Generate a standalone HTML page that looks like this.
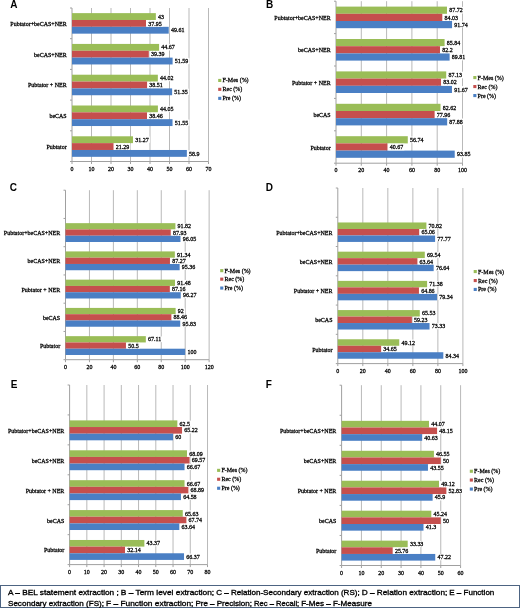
<!DOCTYPE html>
<html><head><meta charset="utf-8"><style>
html,body{margin:0;padding:0;background:#fff;}
body{width:520px;height:608px;overflow:hidden;position:relative;}
svg{position:absolute;left:0;top:0;will-change:transform;}
.tk,.cl,.vl,.lg{font-family:"Liberation Serif",serif;font-size:6.0px;fill:#000;stroke:#000;stroke-width:0.25px;}
.pl{font-family:"Liberation Sans",sans-serif;font-size:10px;font-weight:bold;fill:#000;}
.cap{font-family:"Liberation Sans",sans-serif;font-size:7.5px;fill:#000;stroke:#000;stroke-width:0.32px;}
</style></head><body>
<svg width="520" height="608" viewBox="0 0 520 608">
<line x1="91.50" y1="8.00" x2="91.50" y2="161.50" stroke="#b9b9b9" stroke-width="1"/>
<line x1="111.00" y1="8.00" x2="111.00" y2="161.50" stroke="#b9b9b9" stroke-width="1"/>
<line x1="130.50" y1="8.00" x2="130.50" y2="161.50" stroke="#b9b9b9" stroke-width="1"/>
<line x1="150.00" y1="8.00" x2="150.00" y2="161.50" stroke="#b9b9b9" stroke-width="1"/>
<line x1="169.50" y1="8.00" x2="169.50" y2="161.50" stroke="#b9b9b9" stroke-width="1"/>
<line x1="189.00" y1="8.00" x2="189.00" y2="161.50" stroke="#b9b9b9" stroke-width="1"/>
<line x1="208.50" y1="8.00" x2="208.50" y2="161.50" stroke="#b9b9b9" stroke-width="1"/>
<line x1="72.00" y1="8.00" x2="72.00" y2="161.50" stroke="#a0a0a0" stroke-width="1"/>
<line x1="72.00" y1="161.50" x2="208.50" y2="161.50" stroke="#a0a0a0" stroke-width="1"/>
<line x1="70.00" y1="8.00" x2="72.00" y2="8.00" stroke="#a0a0a0" stroke-width="1"/>
<line x1="70.00" y1="38.70" x2="72.00" y2="38.70" stroke="#a0a0a0" stroke-width="1"/>
<line x1="70.00" y1="69.40" x2="72.00" y2="69.40" stroke="#a0a0a0" stroke-width="1"/>
<line x1="70.00" y1="100.10" x2="72.00" y2="100.10" stroke="#a0a0a0" stroke-width="1"/>
<line x1="70.00" y1="130.80" x2="72.00" y2="130.80" stroke="#a0a0a0" stroke-width="1"/>
<line x1="70.00" y1="161.50" x2="72.00" y2="161.50" stroke="#a0a0a0" stroke-width="1"/>
<line x1="72.00" y1="161.50" x2="72.00" y2="164.00" stroke="#a0a0a0" stroke-width="1"/>
<line x1="91.50" y1="161.50" x2="91.50" y2="164.00" stroke="#a0a0a0" stroke-width="1"/>
<line x1="111.00" y1="161.50" x2="111.00" y2="164.00" stroke="#a0a0a0" stroke-width="1"/>
<line x1="130.50" y1="161.50" x2="130.50" y2="164.00" stroke="#a0a0a0" stroke-width="1"/>
<line x1="150.00" y1="161.50" x2="150.00" y2="164.00" stroke="#a0a0a0" stroke-width="1"/>
<line x1="169.50" y1="161.50" x2="169.50" y2="164.00" stroke="#a0a0a0" stroke-width="1"/>
<line x1="189.00" y1="161.50" x2="189.00" y2="164.00" stroke="#a0a0a0" stroke-width="1"/>
<line x1="208.50" y1="161.50" x2="208.50" y2="164.00" stroke="#a0a0a0" stroke-width="1"/>
<rect x="72.00" y="13.13" width="83.85" height="6.84" fill="#9ABD57"/>
<rect x="72.00" y="19.97" width="74.00" height="6.84" fill="#C54F4D"/>
<rect x="72.00" y="26.82" width="96.74" height="6.84" fill="#4A7FC4"/>
<rect x="72.00" y="43.92" width="87.11" height="6.84" fill="#9ABD57"/>
<rect x="72.00" y="50.76" width="76.81" height="6.84" fill="#C54F4D"/>
<rect x="72.00" y="57.61" width="100.60" height="6.84" fill="#4A7FC4"/>
<rect x="72.00" y="74.71" width="85.84" height="6.84" fill="#9ABD57"/>
<rect x="72.00" y="81.55" width="75.09" height="6.84" fill="#C54F4D"/>
<rect x="72.00" y="88.40" width="100.13" height="6.84" fill="#4A7FC4"/>
<rect x="72.00" y="105.50" width="85.90" height="6.84" fill="#9ABD57"/>
<rect x="72.00" y="112.34" width="75.00" height="6.84" fill="#C54F4D"/>
<rect x="72.00" y="119.19" width="100.52" height="6.84" fill="#4A7FC4"/>
<rect x="72.00" y="136.29" width="60.98" height="6.84" fill="#9ABD57"/>
<rect x="72.00" y="143.13" width="41.52" height="6.84" fill="#C54F4D"/>
<rect x="72.00" y="149.98" width="114.85" height="6.84" fill="#4A7FC4"/>
<rect x="156.85" y="13.43" width="8.40" height="6.24" fill="#fff"/>
<rect x="147.00" y="20.27" width="15.90" height="6.24" fill="#fff"/>
<rect x="169.74" y="27.12" width="15.90" height="6.24" fill="#fff"/>
<rect x="160.11" y="44.22" width="15.90" height="6.24" fill="#fff"/>
<rect x="149.81" y="51.06" width="15.90" height="6.24" fill="#fff"/>
<rect x="173.60" y="57.91" width="15.90" height="6.24" fill="#fff"/>
<rect x="158.84" y="75.01" width="15.90" height="6.24" fill="#fff"/>
<rect x="148.09" y="81.85" width="15.90" height="6.24" fill="#fff"/>
<rect x="173.13" y="88.70" width="15.90" height="6.24" fill="#fff"/>
<rect x="158.90" y="105.80" width="15.90" height="6.24" fill="#fff"/>
<rect x="148.00" y="112.64" width="15.90" height="6.24" fill="#fff"/>
<rect x="173.52" y="119.49" width="15.90" height="6.24" fill="#fff"/>
<rect x="133.98" y="136.59" width="15.90" height="6.24" fill="#fff"/>
<rect x="114.52" y="143.43" width="15.90" height="6.24" fill="#fff"/>
<rect x="187.85" y="150.28" width="12.90" height="6.24" fill="#fff"/>
<rect x="218.20" y="78.90" width="3.10" height="3.10" fill="#9ABD57"/>
<rect x="218.20" y="87.80" width="3.10" height="3.10" fill="#C54F4D"/>
<rect x="218.20" y="96.80" width="3.10" height="3.10" fill="#4A7FC4"/>
<text x="10.30" y="8.20" class="pl">A</text>
<line x1="361.30" y1="1.20" x2="361.30" y2="163.20" stroke="#b9b9b9" stroke-width="1"/>
<line x1="386.60" y1="1.20" x2="386.60" y2="163.20" stroke="#b9b9b9" stroke-width="1"/>
<line x1="411.90" y1="1.20" x2="411.90" y2="163.20" stroke="#b9b9b9" stroke-width="1"/>
<line x1="437.20" y1="1.20" x2="437.20" y2="163.20" stroke="#b9b9b9" stroke-width="1"/>
<line x1="462.50" y1="1.20" x2="462.50" y2="163.20" stroke="#b9b9b9" stroke-width="1"/>
<line x1="336.00" y1="1.20" x2="336.00" y2="163.20" stroke="#a0a0a0" stroke-width="1"/>
<line x1="336.00" y1="163.20" x2="462.50" y2="163.20" stroke="#a0a0a0" stroke-width="1"/>
<line x1="334.00" y1="1.20" x2="336.00" y2="1.20" stroke="#a0a0a0" stroke-width="1"/>
<line x1="334.00" y1="33.60" x2="336.00" y2="33.60" stroke="#a0a0a0" stroke-width="1"/>
<line x1="334.00" y1="66.00" x2="336.00" y2="66.00" stroke="#a0a0a0" stroke-width="1"/>
<line x1="334.00" y1="98.40" x2="336.00" y2="98.40" stroke="#a0a0a0" stroke-width="1"/>
<line x1="334.00" y1="130.80" x2="336.00" y2="130.80" stroke="#a0a0a0" stroke-width="1"/>
<line x1="334.00" y1="163.20" x2="336.00" y2="163.20" stroke="#a0a0a0" stroke-width="1"/>
<line x1="336.00" y1="163.20" x2="336.00" y2="165.70" stroke="#a0a0a0" stroke-width="1"/>
<line x1="361.30" y1="163.20" x2="361.30" y2="165.70" stroke="#a0a0a0" stroke-width="1"/>
<line x1="386.60" y1="163.20" x2="386.60" y2="165.70" stroke="#a0a0a0" stroke-width="1"/>
<line x1="411.90" y1="163.20" x2="411.90" y2="165.70" stroke="#a0a0a0" stroke-width="1"/>
<line x1="437.20" y1="163.20" x2="437.20" y2="165.70" stroke="#a0a0a0" stroke-width="1"/>
<line x1="462.50" y1="163.20" x2="462.50" y2="165.70" stroke="#a0a0a0" stroke-width="1"/>
<rect x="336.00" y="6.60" width="110.97" height="7.20" fill="#9ABD57"/>
<rect x="336.00" y="13.80" width="106.30" height="7.20" fill="#C54F4D"/>
<rect x="336.00" y="21.00" width="116.05" height="7.20" fill="#4A7FC4"/>
<rect x="336.00" y="39.00" width="108.59" height="7.20" fill="#9ABD57"/>
<rect x="336.00" y="46.20" width="103.98" height="7.20" fill="#C54F4D"/>
<rect x="336.00" y="53.40" width="113.61" height="7.20" fill="#4A7FC4"/>
<rect x="336.00" y="71.40" width="110.22" height="7.20" fill="#9ABD57"/>
<rect x="336.00" y="78.60" width="105.02" height="7.20" fill="#C54F4D"/>
<rect x="336.00" y="85.80" width="115.96" height="7.20" fill="#4A7FC4"/>
<rect x="336.00" y="103.80" width="104.51" height="7.20" fill="#9ABD57"/>
<rect x="336.00" y="111.00" width="98.62" height="7.20" fill="#C54F4D"/>
<rect x="336.00" y="118.20" width="111.17" height="7.20" fill="#4A7FC4"/>
<rect x="336.00" y="136.20" width="71.78" height="7.20" fill="#9ABD57"/>
<rect x="336.00" y="143.40" width="51.45" height="7.20" fill="#C54F4D"/>
<rect x="336.00" y="150.60" width="118.72" height="7.20" fill="#4A7FC4"/>
<rect x="447.97" y="6.90" width="15.90" height="6.60" fill="#fff"/>
<rect x="443.30" y="14.10" width="15.90" height="6.60" fill="#fff"/>
<rect x="453.05" y="21.30" width="15.90" height="6.60" fill="#fff"/>
<rect x="445.59" y="39.30" width="15.90" height="6.60" fill="#fff"/>
<rect x="440.98" y="46.50" width="12.90" height="6.60" fill="#fff"/>
<rect x="450.61" y="53.70" width="15.90" height="6.60" fill="#fff"/>
<rect x="447.22" y="71.70" width="15.90" height="6.60" fill="#fff"/>
<rect x="442.02" y="78.90" width="15.90" height="6.60" fill="#fff"/>
<rect x="452.96" y="86.10" width="15.90" height="6.60" fill="#fff"/>
<rect x="441.51" y="104.10" width="15.90" height="6.60" fill="#fff"/>
<rect x="435.62" y="111.30" width="15.90" height="6.60" fill="#fff"/>
<rect x="448.17" y="118.50" width="15.90" height="6.60" fill="#fff"/>
<rect x="408.78" y="136.50" width="15.90" height="6.60" fill="#fff"/>
<rect x="388.45" y="143.70" width="15.90" height="6.60" fill="#fff"/>
<rect x="455.72" y="150.90" width="15.90" height="6.60" fill="#fff"/>
<rect x="473.30" y="76.00" width="3.10" height="3.10" fill="#9ABD57"/>
<rect x="473.30" y="85.00" width="3.10" height="3.10" fill="#C54F4D"/>
<rect x="473.30" y="94.00" width="3.10" height="3.10" fill="#4A7FC4"/>
<text x="266.00" y="7.90" class="pl">B</text>
<line x1="89.44" y1="190.20" x2="89.44" y2="359.70" stroke="#b9b9b9" stroke-width="1"/>
<line x1="113.38" y1="190.20" x2="113.38" y2="359.70" stroke="#b9b9b9" stroke-width="1"/>
<line x1="137.32" y1="190.20" x2="137.32" y2="359.70" stroke="#b9b9b9" stroke-width="1"/>
<line x1="161.26" y1="190.20" x2="161.26" y2="359.70" stroke="#b9b9b9" stroke-width="1"/>
<line x1="185.20" y1="190.20" x2="185.20" y2="359.70" stroke="#b9b9b9" stroke-width="1"/>
<line x1="209.14" y1="190.20" x2="209.14" y2="359.70" stroke="#b9b9b9" stroke-width="1"/>
<line x1="65.50" y1="190.20" x2="65.50" y2="359.70" stroke="#a0a0a0" stroke-width="1"/>
<line x1="65.50" y1="359.70" x2="209.14" y2="359.70" stroke="#a0a0a0" stroke-width="1"/>
<line x1="63.50" y1="190.20" x2="65.50" y2="190.20" stroke="#a0a0a0" stroke-width="1"/>
<line x1="63.50" y1="218.45" x2="65.50" y2="218.45" stroke="#a0a0a0" stroke-width="1"/>
<line x1="63.50" y1="246.70" x2="65.50" y2="246.70" stroke="#a0a0a0" stroke-width="1"/>
<line x1="63.50" y1="274.95" x2="65.50" y2="274.95" stroke="#a0a0a0" stroke-width="1"/>
<line x1="63.50" y1="303.20" x2="65.50" y2="303.20" stroke="#a0a0a0" stroke-width="1"/>
<line x1="63.50" y1="331.45" x2="65.50" y2="331.45" stroke="#a0a0a0" stroke-width="1"/>
<line x1="63.50" y1="359.70" x2="65.50" y2="359.70" stroke="#a0a0a0" stroke-width="1"/>
<line x1="65.50" y1="359.70" x2="65.50" y2="362.20" stroke="#a0a0a0" stroke-width="1"/>
<line x1="89.44" y1="359.70" x2="89.44" y2="362.20" stroke="#a0a0a0" stroke-width="1"/>
<line x1="113.38" y1="359.70" x2="113.38" y2="362.20" stroke="#a0a0a0" stroke-width="1"/>
<line x1="137.32" y1="359.70" x2="137.32" y2="362.20" stroke="#a0a0a0" stroke-width="1"/>
<line x1="161.26" y1="359.70" x2="161.26" y2="362.20" stroke="#a0a0a0" stroke-width="1"/>
<line x1="185.20" y1="359.70" x2="185.20" y2="362.20" stroke="#a0a0a0" stroke-width="1"/>
<line x1="209.14" y1="359.70" x2="209.14" y2="362.20" stroke="#a0a0a0" stroke-width="1"/>
<rect x="65.50" y="223.16" width="109.91" height="6.28" fill="#9ABD57"/>
<rect x="65.50" y="229.44" width="105.25" height="6.28" fill="#C54F4D"/>
<rect x="65.50" y="235.71" width="114.97" height="6.28" fill="#4A7FC4"/>
<rect x="65.50" y="251.41" width="109.33" height="6.28" fill="#9ABD57"/>
<rect x="65.50" y="257.69" width="104.46" height="6.28" fill="#C54F4D"/>
<rect x="65.50" y="263.96" width="114.15" height="6.28" fill="#4A7FC4"/>
<rect x="65.50" y="279.66" width="109.50" height="6.28" fill="#9ABD57"/>
<rect x="65.50" y="285.94" width="104.33" height="6.28" fill="#C54F4D"/>
<rect x="65.50" y="292.21" width="115.24" height="6.28" fill="#4A7FC4"/>
<rect x="65.50" y="307.91" width="110.12" height="6.28" fill="#9ABD57"/>
<rect x="65.50" y="314.19" width="105.89" height="6.28" fill="#C54F4D"/>
<rect x="65.50" y="320.46" width="114.71" height="6.28" fill="#4A7FC4"/>
<rect x="65.50" y="336.16" width="80.33" height="6.28" fill="#9ABD57"/>
<rect x="65.50" y="342.44" width="60.45" height="6.28" fill="#C54F4D"/>
<rect x="65.50" y="348.71" width="119.70" height="6.28" fill="#4A7FC4"/>
<rect x="176.41" y="223.46" width="15.90" height="5.68" fill="#fff"/>
<rect x="171.75" y="229.74" width="15.90" height="5.68" fill="#fff"/>
<rect x="181.47" y="236.01" width="15.90" height="5.68" fill="#fff"/>
<rect x="175.83" y="251.71" width="15.90" height="5.68" fill="#fff"/>
<rect x="170.96" y="257.99" width="15.90" height="5.68" fill="#fff"/>
<rect x="180.65" y="264.26" width="15.90" height="5.68" fill="#fff"/>
<rect x="176.00" y="279.96" width="15.90" height="5.68" fill="#fff"/>
<rect x="170.83" y="286.24" width="15.90" height="5.68" fill="#fff"/>
<rect x="181.74" y="292.51" width="15.90" height="5.68" fill="#fff"/>
<rect x="176.62" y="308.21" width="8.40" height="5.68" fill="#fff"/>
<rect x="172.39" y="314.49" width="15.90" height="5.68" fill="#fff"/>
<rect x="181.21" y="320.76" width="15.90" height="5.68" fill="#fff"/>
<rect x="146.83" y="336.46" width="15.90" height="5.68" fill="#fff"/>
<rect x="126.95" y="342.74" width="12.90" height="5.68" fill="#fff"/>
<rect x="186.20" y="349.01" width="11.40" height="5.68" fill="#fff"/>
<rect x="220.20" y="269.10" width="3.10" height="3.10" fill="#9ABD57"/>
<rect x="220.20" y="277.60" width="3.10" height="3.10" fill="#C54F4D"/>
<rect x="220.20" y="286.50" width="3.10" height="3.10" fill="#4A7FC4"/>
<text x="9.80" y="190.90" class="pl">C</text>
<line x1="362.82" y1="188.00" x2="362.82" y2="363.60" stroke="#b9b9b9" stroke-width="1"/>
<line x1="387.84" y1="188.00" x2="387.84" y2="363.60" stroke="#b9b9b9" stroke-width="1"/>
<line x1="412.86" y1="188.00" x2="412.86" y2="363.60" stroke="#b9b9b9" stroke-width="1"/>
<line x1="437.88" y1="188.00" x2="437.88" y2="363.60" stroke="#b9b9b9" stroke-width="1"/>
<line x1="462.90" y1="188.00" x2="462.90" y2="363.60" stroke="#b9b9b9" stroke-width="1"/>
<line x1="337.80" y1="188.00" x2="337.80" y2="363.60" stroke="#a0a0a0" stroke-width="1"/>
<line x1="337.80" y1="363.60" x2="462.90" y2="363.60" stroke="#a0a0a0" stroke-width="1"/>
<line x1="335.80" y1="188.00" x2="337.80" y2="188.00" stroke="#a0a0a0" stroke-width="1"/>
<line x1="335.80" y1="217.27" x2="337.80" y2="217.27" stroke="#a0a0a0" stroke-width="1"/>
<line x1="335.80" y1="246.53" x2="337.80" y2="246.53" stroke="#a0a0a0" stroke-width="1"/>
<line x1="335.80" y1="275.80" x2="337.80" y2="275.80" stroke="#a0a0a0" stroke-width="1"/>
<line x1="335.80" y1="305.07" x2="337.80" y2="305.07" stroke="#a0a0a0" stroke-width="1"/>
<line x1="335.80" y1="334.33" x2="337.80" y2="334.33" stroke="#a0a0a0" stroke-width="1"/>
<line x1="335.80" y1="363.60" x2="337.80" y2="363.60" stroke="#a0a0a0" stroke-width="1"/>
<line x1="337.80" y1="363.60" x2="337.80" y2="366.10" stroke="#a0a0a0" stroke-width="1"/>
<line x1="362.82" y1="363.60" x2="362.82" y2="366.10" stroke="#a0a0a0" stroke-width="1"/>
<line x1="387.84" y1="363.60" x2="387.84" y2="366.10" stroke="#a0a0a0" stroke-width="1"/>
<line x1="412.86" y1="363.60" x2="412.86" y2="366.10" stroke="#a0a0a0" stroke-width="1"/>
<line x1="437.88" y1="363.60" x2="437.88" y2="366.10" stroke="#a0a0a0" stroke-width="1"/>
<line x1="462.90" y1="363.60" x2="462.90" y2="366.10" stroke="#a0a0a0" stroke-width="1"/>
<rect x="337.80" y="222.47" width="88.60" height="6.49" fill="#9ABD57"/>
<rect x="337.80" y="228.96" width="81.39" height="6.49" fill="#C54F4D"/>
<rect x="337.80" y="235.44" width="97.29" height="6.49" fill="#4A7FC4"/>
<rect x="337.80" y="251.67" width="86.99" height="6.49" fill="#9ABD57"/>
<rect x="337.80" y="258.16" width="79.61" height="6.49" fill="#C54F4D"/>
<rect x="337.80" y="264.64" width="95.88" height="6.49" fill="#4A7FC4"/>
<rect x="337.80" y="280.87" width="89.30" height="6.49" fill="#9ABD57"/>
<rect x="337.80" y="287.36" width="81.14" height="6.49" fill="#C54F4D"/>
<rect x="337.80" y="293.84" width="99.25" height="6.49" fill="#4A7FC4"/>
<rect x="337.80" y="310.07" width="81.98" height="6.49" fill="#9ABD57"/>
<rect x="337.80" y="316.56" width="74.10" height="6.49" fill="#C54F4D"/>
<rect x="337.80" y="323.04" width="91.74" height="6.49" fill="#4A7FC4"/>
<rect x="337.80" y="339.27" width="61.45" height="6.49" fill="#9ABD57"/>
<rect x="337.80" y="345.76" width="43.35" height="6.49" fill="#C54F4D"/>
<rect x="337.80" y="352.24" width="105.51" height="6.49" fill="#4A7FC4"/>
<rect x="427.40" y="222.77" width="15.90" height="5.89" fill="#fff"/>
<rect x="420.19" y="229.26" width="15.90" height="5.89" fill="#fff"/>
<rect x="436.09" y="235.74" width="15.90" height="5.89" fill="#fff"/>
<rect x="425.79" y="251.97" width="15.90" height="5.89" fill="#fff"/>
<rect x="418.41" y="258.46" width="15.90" height="5.89" fill="#fff"/>
<rect x="434.68" y="264.94" width="15.90" height="5.89" fill="#fff"/>
<rect x="428.10" y="281.17" width="15.90" height="5.89" fill="#fff"/>
<rect x="419.94" y="287.66" width="15.90" height="5.89" fill="#fff"/>
<rect x="438.05" y="294.14" width="15.90" height="5.89" fill="#fff"/>
<rect x="420.78" y="310.37" width="15.90" height="5.89" fill="#fff"/>
<rect x="412.90" y="316.86" width="15.90" height="5.89" fill="#fff"/>
<rect x="430.54" y="323.34" width="15.90" height="5.89" fill="#fff"/>
<rect x="400.25" y="339.57" width="15.90" height="5.89" fill="#fff"/>
<rect x="382.15" y="346.06" width="15.90" height="5.89" fill="#fff"/>
<rect x="444.31" y="352.54" width="15.90" height="5.89" fill="#fff"/>
<rect x="473.70" y="270.00" width="3.10" height="3.10" fill="#9ABD57"/>
<rect x="473.70" y="279.00" width="3.10" height="3.10" fill="#C54F4D"/>
<rect x="473.70" y="287.90" width="3.10" height="3.10" fill="#4A7FC4"/>
<text x="265.70" y="190.80" class="pl">D</text>
<line x1="86.84" y1="385.00" x2="86.84" y2="564.60" stroke="#b9b9b9" stroke-width="1"/>
<line x1="104.08" y1="385.00" x2="104.08" y2="564.60" stroke="#b9b9b9" stroke-width="1"/>
<line x1="121.32" y1="385.00" x2="121.32" y2="564.60" stroke="#b9b9b9" stroke-width="1"/>
<line x1="138.56" y1="385.00" x2="138.56" y2="564.60" stroke="#b9b9b9" stroke-width="1"/>
<line x1="155.80" y1="385.00" x2="155.80" y2="564.60" stroke="#b9b9b9" stroke-width="1"/>
<line x1="173.04" y1="385.00" x2="173.04" y2="564.60" stroke="#b9b9b9" stroke-width="1"/>
<line x1="190.28" y1="385.00" x2="190.28" y2="564.60" stroke="#b9b9b9" stroke-width="1"/>
<line x1="207.52" y1="385.00" x2="207.52" y2="564.60" stroke="#b9b9b9" stroke-width="1"/>
<line x1="69.60" y1="385.00" x2="69.60" y2="564.60" stroke="#a0a0a0" stroke-width="1"/>
<line x1="69.60" y1="564.60" x2="207.52" y2="564.60" stroke="#a0a0a0" stroke-width="1"/>
<line x1="67.60" y1="385.00" x2="69.60" y2="385.00" stroke="#a0a0a0" stroke-width="1"/>
<line x1="67.60" y1="414.93" x2="69.60" y2="414.93" stroke="#a0a0a0" stroke-width="1"/>
<line x1="67.60" y1="444.87" x2="69.60" y2="444.87" stroke="#a0a0a0" stroke-width="1"/>
<line x1="67.60" y1="474.80" x2="69.60" y2="474.80" stroke="#a0a0a0" stroke-width="1"/>
<line x1="67.60" y1="504.73" x2="69.60" y2="504.73" stroke="#a0a0a0" stroke-width="1"/>
<line x1="67.60" y1="534.67" x2="69.60" y2="534.67" stroke="#a0a0a0" stroke-width="1"/>
<line x1="67.60" y1="564.60" x2="69.60" y2="564.60" stroke="#a0a0a0" stroke-width="1"/>
<line x1="69.60" y1="564.60" x2="69.60" y2="567.10" stroke="#a0a0a0" stroke-width="1"/>
<line x1="86.84" y1="564.60" x2="86.84" y2="567.10" stroke="#a0a0a0" stroke-width="1"/>
<line x1="104.08" y1="564.60" x2="104.08" y2="567.10" stroke="#a0a0a0" stroke-width="1"/>
<line x1="121.32" y1="564.60" x2="121.32" y2="567.10" stroke="#a0a0a0" stroke-width="1"/>
<line x1="138.56" y1="564.60" x2="138.56" y2="567.10" stroke="#a0a0a0" stroke-width="1"/>
<line x1="155.80" y1="564.60" x2="155.80" y2="567.10" stroke="#a0a0a0" stroke-width="1"/>
<line x1="173.04" y1="564.60" x2="173.04" y2="567.10" stroke="#a0a0a0" stroke-width="1"/>
<line x1="190.28" y1="564.60" x2="190.28" y2="567.10" stroke="#a0a0a0" stroke-width="1"/>
<line x1="207.52" y1="564.60" x2="207.52" y2="567.10" stroke="#a0a0a0" stroke-width="1"/>
<rect x="69.60" y="420.38" width="107.75" height="6.64" fill="#9ABD57"/>
<rect x="69.60" y="427.03" width="112.44" height="6.64" fill="#C54F4D"/>
<rect x="69.60" y="433.67" width="103.44" height="6.64" fill="#4A7FC4"/>
<rect x="69.60" y="450.28" width="117.39" height="6.64" fill="#9ABD57"/>
<rect x="69.60" y="456.93" width="119.94" height="6.64" fill="#C54F4D"/>
<rect x="69.60" y="463.57" width="114.94" height="6.64" fill="#4A7FC4"/>
<rect x="69.60" y="480.18" width="114.94" height="6.64" fill="#9ABD57"/>
<rect x="69.60" y="486.83" width="118.77" height="6.64" fill="#C54F4D"/>
<rect x="69.60" y="493.47" width="111.34" height="6.64" fill="#4A7FC4"/>
<rect x="69.60" y="510.08" width="113.15" height="6.64" fill="#9ABD57"/>
<rect x="69.60" y="516.73" width="116.78" height="6.64" fill="#C54F4D"/>
<rect x="69.60" y="523.37" width="109.72" height="6.64" fill="#4A7FC4"/>
<rect x="69.60" y="539.98" width="74.77" height="6.64" fill="#9ABD57"/>
<rect x="69.60" y="546.63" width="55.41" height="6.64" fill="#C54F4D"/>
<rect x="69.60" y="553.27" width="114.42" height="6.64" fill="#4A7FC4"/>
<rect x="178.35" y="420.68" width="12.90" height="6.04" fill="#fff"/>
<rect x="183.04" y="427.33" width="15.90" height="6.04" fill="#fff"/>
<rect x="174.04" y="433.97" width="8.40" height="6.04" fill="#fff"/>
<rect x="187.99" y="450.58" width="15.90" height="6.04" fill="#fff"/>
<rect x="190.54" y="457.23" width="15.90" height="6.04" fill="#fff"/>
<rect x="185.54" y="463.87" width="15.90" height="6.04" fill="#fff"/>
<rect x="185.54" y="480.48" width="15.90" height="6.04" fill="#fff"/>
<rect x="189.37" y="487.13" width="15.90" height="6.04" fill="#fff"/>
<rect x="181.94" y="493.77" width="15.90" height="6.04" fill="#fff"/>
<rect x="183.75" y="510.38" width="15.90" height="6.04" fill="#fff"/>
<rect x="187.38" y="517.03" width="15.90" height="6.04" fill="#fff"/>
<rect x="180.32" y="523.67" width="15.90" height="6.04" fill="#fff"/>
<rect x="145.37" y="540.28" width="15.90" height="6.04" fill="#fff"/>
<rect x="126.01" y="546.93" width="15.90" height="6.04" fill="#fff"/>
<rect x="185.02" y="553.57" width="15.90" height="6.04" fill="#fff"/>
<rect x="217.10" y="468.80" width="3.10" height="3.10" fill="#9ABD57"/>
<rect x="217.10" y="477.70" width="3.10" height="3.10" fill="#C54F4D"/>
<rect x="217.10" y="486.70" width="3.10" height="3.10" fill="#4A7FC4"/>
<text x="10.70" y="388.10" class="pl">E</text>
<line x1="361.43" y1="385.20" x2="361.43" y2="565.50" stroke="#b9b9b9" stroke-width="1"/>
<line x1="381.26" y1="385.20" x2="381.26" y2="565.50" stroke="#b9b9b9" stroke-width="1"/>
<line x1="401.09" y1="385.20" x2="401.09" y2="565.50" stroke="#b9b9b9" stroke-width="1"/>
<line x1="420.92" y1="385.20" x2="420.92" y2="565.50" stroke="#b9b9b9" stroke-width="1"/>
<line x1="440.75" y1="385.20" x2="440.75" y2="565.50" stroke="#b9b9b9" stroke-width="1"/>
<line x1="460.58" y1="385.20" x2="460.58" y2="565.50" stroke="#b9b9b9" stroke-width="1"/>
<line x1="341.60" y1="385.20" x2="341.60" y2="565.50" stroke="#a0a0a0" stroke-width="1"/>
<line x1="341.60" y1="565.50" x2="460.58" y2="565.50" stroke="#a0a0a0" stroke-width="1"/>
<line x1="339.60" y1="385.20" x2="341.60" y2="385.20" stroke="#a0a0a0" stroke-width="1"/>
<line x1="339.60" y1="415.25" x2="341.60" y2="415.25" stroke="#a0a0a0" stroke-width="1"/>
<line x1="339.60" y1="445.30" x2="341.60" y2="445.30" stroke="#a0a0a0" stroke-width="1"/>
<line x1="339.60" y1="475.35" x2="341.60" y2="475.35" stroke="#a0a0a0" stroke-width="1"/>
<line x1="339.60" y1="505.40" x2="341.60" y2="505.40" stroke="#a0a0a0" stroke-width="1"/>
<line x1="339.60" y1="535.45" x2="341.60" y2="535.45" stroke="#a0a0a0" stroke-width="1"/>
<line x1="339.60" y1="565.50" x2="341.60" y2="565.50" stroke="#a0a0a0" stroke-width="1"/>
<line x1="341.60" y1="565.50" x2="341.60" y2="568.00" stroke="#a0a0a0" stroke-width="1"/>
<line x1="361.43" y1="565.50" x2="361.43" y2="568.00" stroke="#a0a0a0" stroke-width="1"/>
<line x1="381.26" y1="565.50" x2="381.26" y2="568.00" stroke="#a0a0a0" stroke-width="1"/>
<line x1="401.09" y1="565.50" x2="401.09" y2="568.00" stroke="#a0a0a0" stroke-width="1"/>
<line x1="420.92" y1="565.50" x2="420.92" y2="568.00" stroke="#a0a0a0" stroke-width="1"/>
<line x1="440.75" y1="565.50" x2="440.75" y2="568.00" stroke="#a0a0a0" stroke-width="1"/>
<line x1="460.58" y1="565.50" x2="460.58" y2="568.00" stroke="#a0a0a0" stroke-width="1"/>
<rect x="341.60" y="420.84" width="87.39" height="6.66" fill="#9ABD57"/>
<rect x="341.60" y="427.50" width="95.48" height="6.66" fill="#C54F4D"/>
<rect x="341.60" y="434.15" width="80.57" height="6.66" fill="#4A7FC4"/>
<rect x="341.60" y="450.79" width="92.31" height="6.66" fill="#9ABD57"/>
<rect x="341.60" y="457.45" width="99.15" height="6.66" fill="#C54F4D"/>
<rect x="341.60" y="464.10" width="86.36" height="6.66" fill="#4A7FC4"/>
<rect x="341.60" y="480.74" width="97.40" height="6.66" fill="#9ABD57"/>
<rect x="341.60" y="487.40" width="104.76" height="6.66" fill="#C54F4D"/>
<rect x="341.60" y="494.05" width="91.02" height="6.66" fill="#4A7FC4"/>
<rect x="341.60" y="510.69" width="89.71" height="6.66" fill="#9ABD57"/>
<rect x="341.60" y="517.35" width="99.15" height="6.66" fill="#C54F4D"/>
<rect x="341.60" y="524.00" width="81.90" height="6.66" fill="#4A7FC4"/>
<rect x="341.60" y="540.64" width="66.09" height="6.66" fill="#9ABD57"/>
<rect x="341.60" y="547.30" width="51.08" height="6.66" fill="#C54F4D"/>
<rect x="341.60" y="553.95" width="93.64" height="6.66" fill="#4A7FC4"/>
<rect x="429.99" y="421.14" width="15.90" height="6.06" fill="#fff"/>
<rect x="438.08" y="427.80" width="15.90" height="6.06" fill="#fff"/>
<rect x="423.17" y="434.45" width="15.90" height="6.06" fill="#fff"/>
<rect x="434.91" y="451.09" width="15.90" height="6.06" fill="#fff"/>
<rect x="441.75" y="457.75" width="8.40" height="6.06" fill="#fff"/>
<rect x="428.96" y="464.40" width="15.90" height="6.06" fill="#fff"/>
<rect x="440.00" y="481.04" width="15.90" height="6.06" fill="#fff"/>
<rect x="447.36" y="487.70" width="15.90" height="6.06" fill="#fff"/>
<rect x="433.62" y="494.35" width="12.90" height="6.06" fill="#fff"/>
<rect x="432.31" y="510.99" width="15.90" height="6.06" fill="#fff"/>
<rect x="441.75" y="517.65" width="8.40" height="6.06" fill="#fff"/>
<rect x="424.50" y="524.30" width="12.90" height="6.06" fill="#fff"/>
<rect x="408.69" y="540.94" width="15.90" height="6.06" fill="#fff"/>
<rect x="393.68" y="547.60" width="15.90" height="6.06" fill="#fff"/>
<rect x="436.24" y="554.25" width="15.90" height="6.06" fill="#fff"/>
<rect x="469.80" y="469.70" width="3.10" height="3.10" fill="#9ABD57"/>
<rect x="469.80" y="478.50" width="3.10" height="3.10" fill="#C54F4D"/>
<rect x="469.80" y="487.50" width="3.10" height="3.10" fill="#4A7FC4"/>
<text x="265.70" y="388.10" class="pl">F</text>
<g>
<text transform="translate(72.00 170.60) scale(1 1.08)" class="tk" text-anchor="middle">0</text>
<text transform="translate(91.50 170.60) scale(1 1.08)" class="tk" text-anchor="middle">10</text>
<text transform="translate(111.00 170.60) scale(1 1.08)" class="tk" text-anchor="middle">20</text>
<text transform="translate(130.50 170.60) scale(1 1.08)" class="tk" text-anchor="middle">30</text>
<text transform="translate(150.00 170.60) scale(1 1.08)" class="tk" text-anchor="middle">40</text>
<text transform="translate(169.50 170.60) scale(1 1.08)" class="tk" text-anchor="middle">50</text>
<text transform="translate(189.00 170.60) scale(1 1.08)" class="tk" text-anchor="middle">60</text>
<text transform="translate(208.50 170.60) scale(1 1.08)" class="tk" text-anchor="middle">70</text>
<text transform="translate(66.70 25.89) scale(1 1.08)" class="cl" text-anchor="end">Pubtator+beCAS+NER</text>
<text transform="translate(66.70 56.69) scale(1 1.08)" class="cl" text-anchor="end">beCAS+NER</text>
<text transform="translate(66.70 87.47) scale(1 1.08)" class="cl" text-anchor="end">Pubtator + NER</text>
<text transform="translate(66.70 118.27) scale(1 1.08)" class="cl" text-anchor="end">beCAS</text>
<text transform="translate(66.70 149.06) scale(1 1.08)" class="cl" text-anchor="end">Pubtator</text>
<text transform="translate(158.05 18.65) scale(1 1.08)" class="vl">43</text>
<text transform="translate(148.20 25.50) scale(1 1.08)" class="vl">37.95</text>
<text transform="translate(170.94 32.34) scale(1 1.08)" class="vl">49.61</text>
<text transform="translate(161.31 49.44) scale(1 1.08)" class="vl">44.67</text>
<text transform="translate(151.01 56.28) scale(1 1.08)" class="vl">39.39</text>
<text transform="translate(174.80 63.13) scale(1 1.08)" class="vl">51.59</text>
<text transform="translate(160.04 80.23) scale(1 1.08)" class="vl">44.02</text>
<text transform="translate(149.29 87.07) scale(1 1.08)" class="vl">38.51</text>
<text transform="translate(174.33 93.92) scale(1 1.08)" class="vl">51.35</text>
<text transform="translate(160.10 111.02) scale(1 1.08)" class="vl">44.05</text>
<text transform="translate(149.20 117.86) scale(1 1.08)" class="vl">38.46</text>
<text transform="translate(174.72 124.71) scale(1 1.08)" class="vl">51.55</text>
<text transform="translate(135.18 141.81) scale(1 1.08)" class="vl">31.27</text>
<text transform="translate(115.72 148.66) scale(1 1.08)" class="vl">21.29</text>
<text transform="translate(189.05 155.50) scale(1 1.08)" class="vl">58.9</text>
<text transform="translate(222.50 82.40) scale(1 1.08)" class="lg">F-Mes (%)</text>
<text transform="translate(222.50 91.30) scale(1 1.08)" class="lg">Rec (%)</text>
<text transform="translate(222.50 100.30) scale(1 1.08)" class="lg">Pre (%)</text>
<text transform="translate(336.00 172.30) scale(1 1.08)" class="tk" text-anchor="middle">0</text>
<text transform="translate(361.30 172.30) scale(1 1.08)" class="tk" text-anchor="middle">20</text>
<text transform="translate(386.60 172.30) scale(1 1.08)" class="tk" text-anchor="middle">40</text>
<text transform="translate(411.90 172.30) scale(1 1.08)" class="tk" text-anchor="middle">60</text>
<text transform="translate(437.20 172.30) scale(1 1.08)" class="tk" text-anchor="middle">80</text>
<text transform="translate(462.50 172.30) scale(1 1.08)" class="tk" text-anchor="middle">100</text>
<text transform="translate(330.70 19.90) scale(1 1.08)" class="cl" text-anchor="end">Pubtator+beCAS+NER</text>
<text transform="translate(330.70 52.30) scale(1 1.08)" class="cl" text-anchor="end">beCAS+NER</text>
<text transform="translate(330.70 84.70) scale(1 1.08)" class="cl" text-anchor="end">Pubtator + NER</text>
<text transform="translate(330.70 117.10) scale(1 1.08)" class="cl" text-anchor="end">beCAS</text>
<text transform="translate(330.70 149.50) scale(1 1.08)" class="cl" text-anchor="end">Pubtator</text>
<text transform="translate(449.17 12.30) scale(1 1.08)" class="vl">87.72</text>
<text transform="translate(444.50 19.50) scale(1 1.08)" class="vl">84.03</text>
<text transform="translate(454.25 26.70) scale(1 1.08)" class="vl">91.74</text>
<text transform="translate(446.79 44.70) scale(1 1.08)" class="vl">85.84</text>
<text transform="translate(442.18 51.90) scale(1 1.08)" class="vl">82.2</text>
<text transform="translate(451.81 59.10) scale(1 1.08)" class="vl">89.81</text>
<text transform="translate(448.42 77.10) scale(1 1.08)" class="vl">87.13</text>
<text transform="translate(443.22 84.30) scale(1 1.08)" class="vl">83.02</text>
<text transform="translate(454.16 91.50) scale(1 1.08)" class="vl">91.67</text>
<text transform="translate(442.71 109.50) scale(1 1.08)" class="vl">82.62</text>
<text transform="translate(436.82 116.70) scale(1 1.08)" class="vl">77.96</text>
<text transform="translate(449.37 123.90) scale(1 1.08)" class="vl">87.88</text>
<text transform="translate(409.98 141.90) scale(1 1.08)" class="vl">56.74</text>
<text transform="translate(389.65 149.10) scale(1 1.08)" class="vl">40.67</text>
<text transform="translate(456.92 156.30) scale(1 1.08)" class="vl">93.85</text>
<text transform="translate(477.60 79.50) scale(1 1.08)" class="lg">F-Mes (%)</text>
<text transform="translate(477.60 88.50) scale(1 1.08)" class="lg">Rec (%)</text>
<text transform="translate(477.60 97.50) scale(1 1.08)" class="lg">Pre (%)</text>
<text transform="translate(65.50 368.80) scale(1 1.08)" class="tk" text-anchor="middle">0</text>
<text transform="translate(89.44 368.80) scale(1 1.08)" class="tk" text-anchor="middle">20</text>
<text transform="translate(113.38 368.80) scale(1 1.08)" class="tk" text-anchor="middle">40</text>
<text transform="translate(137.32 368.80) scale(1 1.08)" class="tk" text-anchor="middle">60</text>
<text transform="translate(161.26 368.80) scale(1 1.08)" class="tk" text-anchor="middle">80</text>
<text transform="translate(185.20 368.80) scale(1 1.08)" class="tk" text-anchor="middle">100</text>
<text transform="translate(209.14 368.80) scale(1 1.08)" class="tk" text-anchor="middle">120</text>
<text transform="translate(60.20 235.07) scale(1 1.08)" class="cl" text-anchor="end">Pubtator+beCAS+NER</text>
<text transform="translate(60.20 263.32) scale(1 1.08)" class="cl" text-anchor="end">beCAS+NER</text>
<text transform="translate(60.20 291.57) scale(1 1.08)" class="cl" text-anchor="end">Pubtator + NER</text>
<text transform="translate(60.20 319.82) scale(1 1.08)" class="cl" text-anchor="end">beCAS</text>
<text transform="translate(60.20 348.07) scale(1 1.08)" class="cl" text-anchor="end">Pubtator</text>
<text transform="translate(177.61 228.40) scale(1 1.08)" class="vl">91.82</text>
<text transform="translate(172.95 234.67) scale(1 1.08)" class="vl">87.93</text>
<text transform="translate(182.67 240.95) scale(1 1.08)" class="vl">96.05</text>
<text transform="translate(177.03 256.65) scale(1 1.08)" class="vl">91.34</text>
<text transform="translate(172.16 262.93) scale(1 1.08)" class="vl">87.27</text>
<text transform="translate(181.85 269.20) scale(1 1.08)" class="vl">95.36</text>
<text transform="translate(177.20 284.90) scale(1 1.08)" class="vl">91.48</text>
<text transform="translate(172.03 291.18) scale(1 1.08)" class="vl">87.16</text>
<text transform="translate(182.94 297.45) scale(1 1.08)" class="vl">96.27</text>
<text transform="translate(177.82 313.15) scale(1 1.08)" class="vl">92</text>
<text transform="translate(173.59 319.43) scale(1 1.08)" class="vl">88.46</text>
<text transform="translate(182.41 325.70) scale(1 1.08)" class="vl">95.83</text>
<text transform="translate(148.03 341.40) scale(1 1.08)" class="vl">67.11</text>
<text transform="translate(128.15 347.68) scale(1 1.08)" class="vl">50.5</text>
<text transform="translate(187.40 353.95) scale(1 1.08)" class="vl">100</text>
<text transform="translate(224.50 272.60) scale(1 1.08)" class="lg">F-Mes (%)</text>
<text transform="translate(224.50 281.10) scale(1 1.08)" class="lg">Rec (%)</text>
<text transform="translate(224.50 290.00) scale(1 1.08)" class="lg">Pre (%)</text>
<text transform="translate(337.80 372.70) scale(1 1.08)" class="tk" text-anchor="middle">0</text>
<text transform="translate(362.82 372.70) scale(1 1.08)" class="tk" text-anchor="middle">20</text>
<text transform="translate(387.84 372.70) scale(1 1.08)" class="tk" text-anchor="middle">40</text>
<text transform="translate(412.86 372.70) scale(1 1.08)" class="tk" text-anchor="middle">60</text>
<text transform="translate(437.88 372.70) scale(1 1.08)" class="tk" text-anchor="middle">80</text>
<text transform="translate(462.90 372.70) scale(1 1.08)" class="tk" text-anchor="middle">100</text>
<text transform="translate(332.50 234.70) scale(1 1.08)" class="cl" text-anchor="end">Pubtator+beCAS+NER</text>
<text transform="translate(332.50 263.90) scale(1 1.08)" class="cl" text-anchor="end">beCAS+NER</text>
<text transform="translate(332.50 293.10) scale(1 1.08)" class="cl" text-anchor="end">Pubtator + NER</text>
<text transform="translate(332.50 322.30) scale(1 1.08)" class="cl" text-anchor="end">beCAS</text>
<text transform="translate(332.50 351.50) scale(1 1.08)" class="cl" text-anchor="end">Pubtator</text>
<text transform="translate(428.60 227.81) scale(1 1.08)" class="vl">70.82</text>
<text transform="translate(421.39 234.30) scale(1 1.08)" class="vl">65.06</text>
<text transform="translate(437.29 240.79) scale(1 1.08)" class="vl">77.77</text>
<text transform="translate(426.99 257.01) scale(1 1.08)" class="vl">69.54</text>
<text transform="translate(419.61 263.50) scale(1 1.08)" class="vl">63.64</text>
<text transform="translate(435.88 269.99) scale(1 1.08)" class="vl">76.64</text>
<text transform="translate(429.30 286.21) scale(1 1.08)" class="vl">71.38</text>
<text transform="translate(421.14 292.70) scale(1 1.08)" class="vl">64.86</text>
<text transform="translate(439.25 299.19) scale(1 1.08)" class="vl">79.34</text>
<text transform="translate(421.98 315.41) scale(1 1.08)" class="vl">65.53</text>
<text transform="translate(414.10 321.90) scale(1 1.08)" class="vl">59.23</text>
<text transform="translate(431.74 328.39) scale(1 1.08)" class="vl">73.33</text>
<text transform="translate(401.45 344.61) scale(1 1.08)" class="vl">49.12</text>
<text transform="translate(383.35 351.10) scale(1 1.08)" class="vl">34.65</text>
<text transform="translate(445.51 357.59) scale(1 1.08)" class="vl">84.34</text>
<text transform="translate(478.00 273.50) scale(1 1.08)" class="lg">F-Mes (%)</text>
<text transform="translate(478.00 282.50) scale(1 1.08)" class="lg">Rec (%)</text>
<text transform="translate(478.00 291.40) scale(1 1.08)" class="lg">Pre (%)</text>
<text transform="translate(69.60 573.70) scale(1 1.08)" class="tk" text-anchor="middle">0</text>
<text transform="translate(86.84 573.70) scale(1 1.08)" class="tk" text-anchor="middle">10</text>
<text transform="translate(104.08 573.70) scale(1 1.08)" class="tk" text-anchor="middle">20</text>
<text transform="translate(121.32 573.70) scale(1 1.08)" class="tk" text-anchor="middle">30</text>
<text transform="translate(138.56 573.70) scale(1 1.08)" class="tk" text-anchor="middle">40</text>
<text transform="translate(155.80 573.70) scale(1 1.08)" class="tk" text-anchor="middle">50</text>
<text transform="translate(173.04 573.70) scale(1 1.08)" class="tk" text-anchor="middle">60</text>
<text transform="translate(190.28 573.70) scale(1 1.08)" class="tk" text-anchor="middle">70</text>
<text transform="translate(207.52 573.70) scale(1 1.08)" class="tk" text-anchor="middle">80</text>
<text transform="translate(64.30 432.85) scale(1 1.08)" class="cl" text-anchor="end">Pubtator+beCAS+NER</text>
<text transform="translate(64.30 462.75) scale(1 1.08)" class="cl" text-anchor="end">beCAS+NER</text>
<text transform="translate(64.30 492.65) scale(1 1.08)" class="cl" text-anchor="end">Pubtator + NER</text>
<text transform="translate(64.30 522.55) scale(1 1.08)" class="cl" text-anchor="end">beCAS</text>
<text transform="translate(64.30 552.45) scale(1 1.08)" class="cl" text-anchor="end">Pubtator</text>
<text transform="translate(179.55 425.81) scale(1 1.08)" class="vl">62.5</text>
<text transform="translate(184.24 432.45) scale(1 1.08)" class="vl">65.22</text>
<text transform="translate(175.24 439.09) scale(1 1.08)" class="vl">60</text>
<text transform="translate(189.19 455.71) scale(1 1.08)" class="vl">68.09</text>
<text transform="translate(191.74 462.35) scale(1 1.08)" class="vl">69.57</text>
<text transform="translate(186.74 468.99) scale(1 1.08)" class="vl">66.67</text>
<text transform="translate(186.74 485.61) scale(1 1.08)" class="vl">66.67</text>
<text transform="translate(190.57 492.25) scale(1 1.08)" class="vl">68.89</text>
<text transform="translate(183.14 498.89) scale(1 1.08)" class="vl">64.58</text>
<text transform="translate(184.95 515.51) scale(1 1.08)" class="vl">65.63</text>
<text transform="translate(188.58 522.15) scale(1 1.08)" class="vl">67.74</text>
<text transform="translate(181.52 528.79) scale(1 1.08)" class="vl">63.64</text>
<text transform="translate(146.57 545.41) scale(1 1.08)" class="vl">43.37</text>
<text transform="translate(127.21 552.05) scale(1 1.08)" class="vl">32.14</text>
<text transform="translate(186.22 558.69) scale(1 1.08)" class="vl">66.37</text>
<text transform="translate(221.40 472.30) scale(1 1.08)" class="lg">F-Mes (%)</text>
<text transform="translate(221.40 481.20) scale(1 1.08)" class="lg">Rec (%)</text>
<text transform="translate(221.40 490.20) scale(1 1.08)" class="lg">Pre (%)</text>
<text transform="translate(341.60 574.60) scale(1 1.08)" class="tk" text-anchor="middle">0</text>
<text transform="translate(361.43 574.60) scale(1 1.08)" class="tk" text-anchor="middle">10</text>
<text transform="translate(381.26 574.60) scale(1 1.08)" class="tk" text-anchor="middle">20</text>
<text transform="translate(401.09 574.60) scale(1 1.08)" class="tk" text-anchor="middle">30</text>
<text transform="translate(420.92 574.60) scale(1 1.08)" class="tk" text-anchor="middle">40</text>
<text transform="translate(440.75 574.60) scale(1 1.08)" class="tk" text-anchor="middle">50</text>
<text transform="translate(460.58 574.60) scale(1 1.08)" class="tk" text-anchor="middle">60</text>
<text transform="translate(336.30 433.32) scale(1 1.08)" class="cl" text-anchor="end">Pubtator+beCAS+NER</text>
<text transform="translate(336.30 463.28) scale(1 1.08)" class="cl" text-anchor="end">beCAS+NER</text>
<text transform="translate(336.30 493.23) scale(1 1.08)" class="cl" text-anchor="end">Pubtator + NER</text>
<text transform="translate(336.30 523.17) scale(1 1.08)" class="cl" text-anchor="end">beCAS</text>
<text transform="translate(336.30 553.12) scale(1 1.08)" class="cl" text-anchor="end">Pubtator</text>
<text transform="translate(431.19 426.27) scale(1 1.08)" class="vl">44.07</text>
<text transform="translate(439.28 432.93) scale(1 1.08)" class="vl">48.15</text>
<text transform="translate(424.37 439.58) scale(1 1.08)" class="vl">40.63</text>
<text transform="translate(436.11 456.22) scale(1 1.08)" class="vl">46.55</text>
<text transform="translate(442.95 462.88) scale(1 1.08)" class="vl">50</text>
<text transform="translate(430.16 469.53) scale(1 1.08)" class="vl">43.55</text>
<text transform="translate(441.20 486.17) scale(1 1.08)" class="vl">49.12</text>
<text transform="translate(448.56 492.83) scale(1 1.08)" class="vl">52.83</text>
<text transform="translate(434.82 499.48) scale(1 1.08)" class="vl">45.9</text>
<text transform="translate(433.51 516.12) scale(1 1.08)" class="vl">45.24</text>
<text transform="translate(442.95 522.77) scale(1 1.08)" class="vl">50</text>
<text transform="translate(425.70 529.43) scale(1 1.08)" class="vl">41.3</text>
<text transform="translate(409.89 546.07) scale(1 1.08)" class="vl">33.33</text>
<text transform="translate(394.88 552.73) scale(1 1.08)" class="vl">25.76</text>
<text transform="translate(437.44 559.38) scale(1 1.08)" class="vl">47.22</text>
<text transform="translate(474.10 473.20) scale(1 1.08)" class="lg">F-Mes (%)</text>
<text transform="translate(474.10 482.00) scale(1 1.08)" class="lg">Rec (%)</text>
<text transform="translate(474.10 491.00) scale(1 1.08)" class="lg">Pre (%)</text>
</g>
<rect x="0.5" y="585.5" width="519" height="22" fill="none" stroke="#4d6482" stroke-width="1"/>
<text x="8.0" y="594.9" class="cap" textLength="110.8" lengthAdjust="spacingAndGlyphs">A – BEL statement extraction ;</text>
<text x="120.8" y="594.9" class="cap" textLength="93.4" lengthAdjust="spacingAndGlyphs">B – Term level extraction;</text>
<text x="216.2" y="594.9" class="cap" textLength="143.5" lengthAdjust="spacingAndGlyphs">C – Relation-Secondary extraction (RS);</text>
<text x="361.7" y="594.9" class="cap" textLength="85.6" lengthAdjust="spacingAndGlyphs">D – Relation extraction;</text>
<text x="449.3" y="594.9" class="cap" textLength="45.0" lengthAdjust="spacingAndGlyphs">E – Function</text>
<text x="8.0" y="605.6" class="cap" textLength="96.0" lengthAdjust="spacingAndGlyphs">Secondary extraction (FS);</text>
<text x="106.0" y="605.6" class="cap" textLength="87.4" lengthAdjust="spacingAndGlyphs">F – Function extraction;</text>
<text x="195.4" y="605.6" class="cap" textLength="56.6" lengthAdjust="spacingAndGlyphs">Pre – Precision;</text>
<text x="254.0" y="605.6" class="cap" textLength="45.2" lengthAdjust="spacingAndGlyphs">Rec – Recall;</text>
<text x="301.2" y="605.6" class="cap" textLength="70.7" lengthAdjust="spacingAndGlyphs">F-Mes – F-Measure</text>
</svg>
</body></html>
